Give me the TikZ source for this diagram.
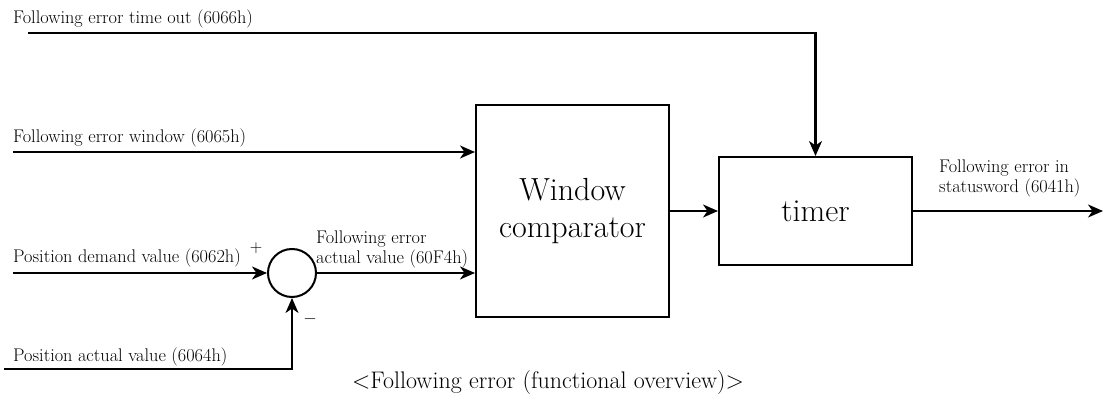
\documentclass[tikz,border=0pt]{standalone}
\usepackage{fontspec}
\usepackage{tikz}
\usetikzlibrary{arrows.meta,positioning,calc}
\tikzset{
    block/.style={draw, line width=2pt, align=center, inner sep=0pt, font=\fontsize{32}{37}\selectfont},
    sumnode/.style={circle, draw, line width=2pt, minimum size=48pt, inner sep=0pt},
    arrow/.style={-{Stealth[length=15pt, width=13pt, inset=4.5pt]}, line width=2.2pt},
    signal/.style={font=\fontsize{18.3}{20}\selectfont, inner sep=0pt, anchor=base west, align=left},
    sign/.style={font=\fontsize{16}{18}\selectfont, inner sep=0pt}
}
\begin{document}
\begin{tikzpicture}[x=1pt, y=-1pt]
  \useasboundingbox (0,0) rectangle (1104,403);

  % Function blocks
  \node[block, minimum width=193pt, minimum height=212pt] (comp) at (572.5, 211) {Window\\comparator};
  \node[block, minimum width=193pt, minimum height=108pt] (timer) at (815.5, 211) {timer};
  \node[sumnode] (sum) at (292, 273) {};

  % Free ends of the signal lines
  \coordinate (to_in) at (28, 33);
  \coordinate (win_in) at (13, 152);
  \coordinate (pd_in) at (13, 273);
  \coordinate (pa_in) at (4, 369);
  \coordinate (fe_out) at (1103, 211);

  % Signal labels
  \node[signal] (to_lbl) at (13, 24) {Following error time out (6066h)};
  \node[signal] (win_lbl) at (13, 143) {Following error window (6065h)};
  \node[signal] (pd_lbl) at (13, 263) {Position demand value (6062h)};
  \node[signal] (pa_lbl) at (13, 362) {Position actual value (6064h)};
  \node[signal] (act_lbl) at (316, 264) {Following error\\actual value (60F4h)};
  \node[signal] (out_lbl) at (939, 193) {Following error in\\statusword (6041h)};
  \node[sign] (plus) at (256, 248) {$+$};
  \node[sign] (minus) at (310, 319) {$-$};

  % Connectors
  \draw[arrow] (to_in) -| (timer.north);
  \draw[arrow] (win_in) -- (comp.west |- win_in);
  \draw[arrow] (pd_in) -- (sum.west);
  \draw[arrow] (pa_in) -| (sum.south);
  \draw[arrow] (sum.east) -- (comp.west |- sum);
  \draw[arrow] (comp.east) -- (timer.west);
  \draw[arrow] (timer.east) -- (fe_out);

  % Caption
  \node[signal, anchor=base, font=\fontsize{24}{28}\selectfont] (caption) at (548, 389) {<Following error (functional overview)>};
\end{tikzpicture}
\end{document}
